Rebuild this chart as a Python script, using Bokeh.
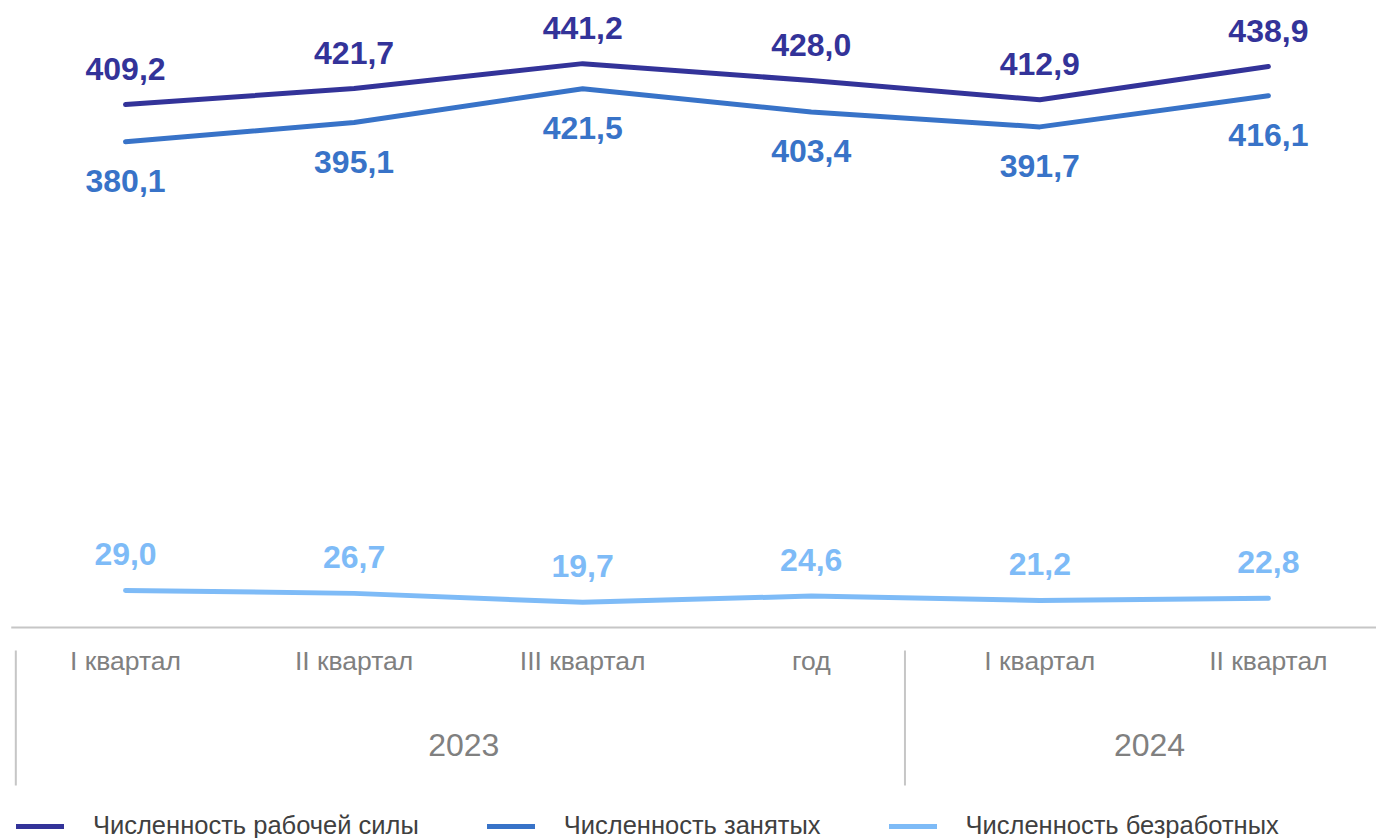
from bokeh.plotting import figure
from bokeh.models import Range1d, Legend, LegendItem
from bokeh.core.properties import value
from bokeh.embed import file_html
from bokeh.resources import INLINE

# ---- data ----
quarters = ["I квартал", "II квартал", "III квартал", "год", "I квартал", "II квартал"]
years = ["2023", "2024"]
year_groups = [[0, 1, 2, 3], [4, 5]]
labor_force = [409.2, 421.7, 441.2, 428.0, 412.9, 438.9]
employed = [380.1, 395.1, 421.5, 403.4, 391.7, 416.1]
unemployed = [29.0, 26.7, 19.7, 24.6, 21.2, 22.8]
series_names = ["Численность рабочей силы", "Численность занятых", "Численность безработных"]

# ---- style ----
FONT_NAME = "Liberation Sans"
FONT = value(FONT_NAME)
W, H = 1376, 838
Y0, Y1 = -165.1, 490.6
PX_PER_UNIT = H / (Y1 - Y0)
colors = ["#333399", "#3873C8", "#7EBBF7"]
label_offsets = [-36, 39, -36]
sep_edges = [-0.48, 3.41]

xs = list(range(len(quarters)))

p = figure(width=W, height=H, x_range=Range1d(-0.547, 5.473), y_range=Range1d(Y0, Y1),
           output_backend="svg", toolbar_location=None, min_border=0,
           x_axis_type=None, y_axis_type=None)
p.grid.visible = False
p.outline_line_color = None
p.background_fill_color = "white"
p.border_fill_color = "white"

def fmt(v):
    return f"{v:.1f}".replace(".", ",")

renderers = []
for vals, c, off in zip([labor_force, employed, unemployed], colors, label_offsets):
    r = p.line(xs, vals, line_color=c, line_width=5, line_cap="round", line_join="round")
    renderers.append(r)
    p.text(x=xs, y=vals, text=[fmt(v) for v in vals], text_align="center",
           text_baseline="middle", y_offset=off, text_font=FONT, text_font_style="bold",
           text_font_size="32px", text_color=c)

# category axis line
p.segment(x0=[-0.5], y0=[0], x1=[len(xs) - 0.5], y1=[0], line_color="#c6c6c6", line_width=2)

# quarter labels
p.text(x=xs, y=[0] * len(xs), text=quarters, text_align="center", text_baseline="middle",
       y_offset=34, text_font=FONT, text_font_size="26.5px", text_color="#808080")

# year labels
year_x = [sum(g) / len(g) - 0.02 for g in year_groups]
p.text(x=year_x, y=[0] * len(years), text=years, text_align="center", text_baseline="middle",
       y_offset=118, text_font=FONT, text_font_size="32px", text_color="#808080")

# group separators
p.segment(x0=sep_edges, y0=[-23 / PX_PER_UNIT] * 2, x1=sep_edges, y1=[-158 / PX_PER_UNIT] * 2,
          line_color="#c6c6c6", line_width=2)

legend = Legend(items=[LegendItem(label=n, renderers=[r]) for n, r in zip(series_names, renderers)],
                orientation="horizontal", location=(16, -2), glyph_width=48, glyph_height=20,
                label_standoff=29, spacing=68, padding=0, margin=0,
                border_line_color=None, background_fill_alpha=0,
                label_text_font=FONT_NAME, label_text_font_size="25.5px", label_text_color="#404040")
p.add_layout(legend)

open("out.html", "w").write(file_html(p, INLINE))
